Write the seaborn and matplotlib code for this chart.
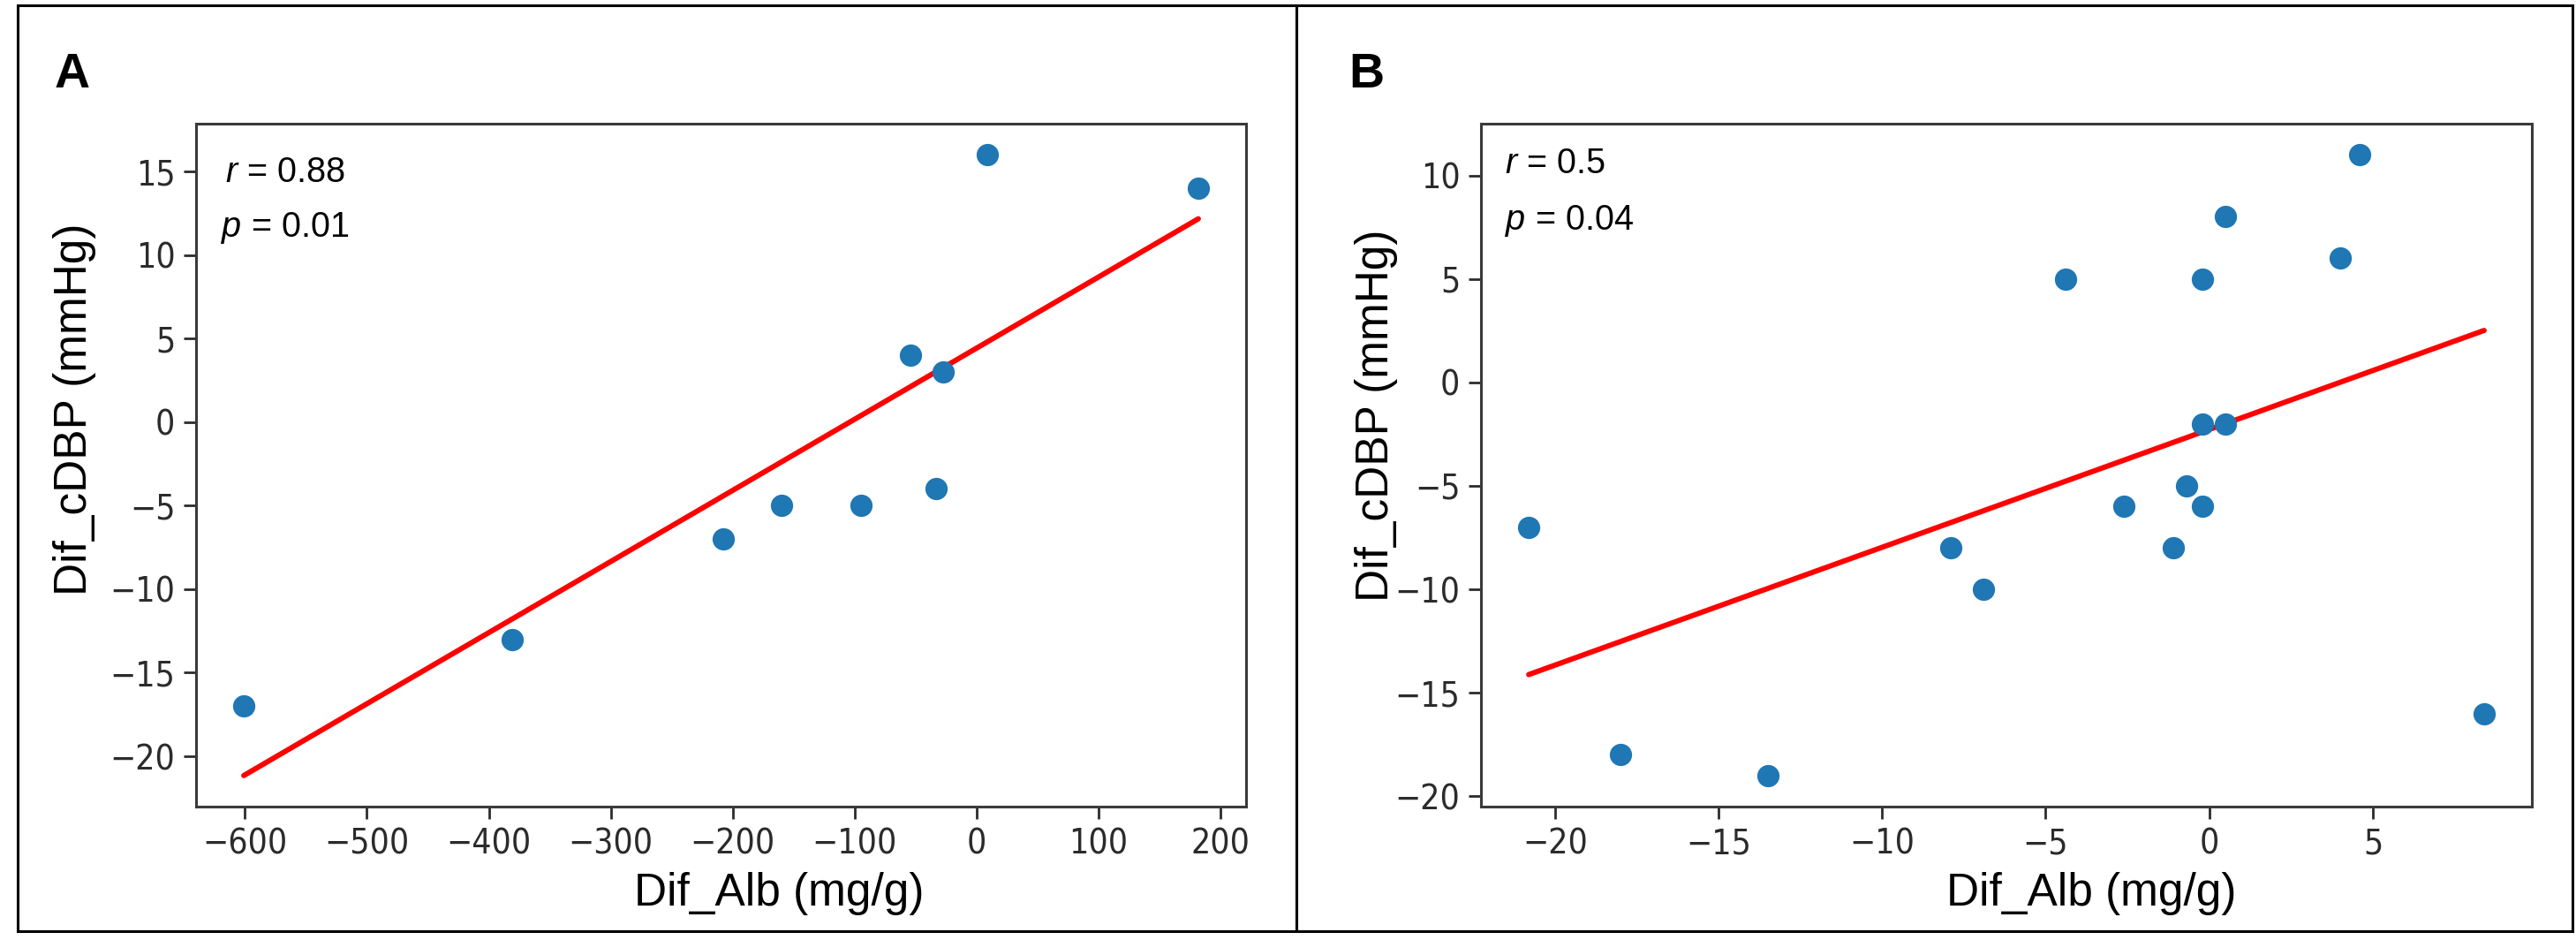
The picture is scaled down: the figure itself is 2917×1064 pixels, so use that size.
import numpy as np
import pandas as pd
import matplotlib
matplotlib.use("Agg")
import matplotlib.pyplot as plt
import matplotlib.patches as patches
import seaborn as sns

# panel A: change in albuminuria vs change in central DBP
alb_a = [-601, -381, -208, -160, -95, -33, -54, -27, 9, 182]
dbp_a = [-17, -13, -7, -5, -5, -4, 4, 3, 16, 14]
# panel B
alb_b = [-20.8, -18.0, -13.5, -7.9, -6.9, -4.4, -2.6, -1.1, -0.7, -0.2,
         -0.2, 0.5, -0.2, 0.5, 4.0, 4.6, 8.4]
dbp_b = [-7, -18, -19, -8, -10, 5, -6, -8, -5, -6, -2, -2, 5, 8, 6, 11, -16]

xticks_a = [-600, -500, -400, -300, -200, -100, 0, 100, 200]
yticks_a = [-20, -15, -10, -5, 0, 5, 10, 15]
xticks_b = [-20, -15, -10, -5, 0, 5]
yticks_b = [-20, -15, -10, -5, 0, 5, 10]

stats_a = ("0.88", "0.01")
stats_b = ("0.5", "0.04")

sns.set_style("ticks")
plt.rcParams["font.family"] = ["DejaVu Sans"]
plt.rcParams["mathtext.fontset"] = "custom"
plt.rcParams["mathtext.rm"] = "Liberation Sans"
plt.rcParams["mathtext.it"] = "Liberation Sans:italic"

W, H = 2917, 1064
fig = plt.figure(figsize=(W / 100, H / 100), dpi=100)

# outer panel frames (pixel coords -> figure fraction)
for x0, x1 in [(20, 1468), (1468, 2913)]:
    fig.patches.append(patches.Rectangle((x0 / W, 1 - 1054 / H), (x1 - x0) / W, (1054 - 6) / H,
                                         transform=fig.transFigure, fill=False,
                                         edgecolor="black", linewidth=2.2))

ax_a = fig.add_axes([222 / W, 1 - 913 / H, (1411 - 222) / W, (913 - 140) / H])
ax_b = fig.add_axes([1677 / W, 1 - 913 / H, (2867 - 1677) / W, (913 - 140) / H])

panels = [
    (ax_a, alb_a, dbp_a, xticks_a, yticks_a, stats_a, (0.028, 0.915, 0.0235, 0.834),
     (0.555, -0.096), (-0.095, 0.582), "A", 62),
    (ax_b, alb_b, dbp_b, xticks_b, yticks_b, stats_b, (0.023, 0.928, 0.023, 0.845),
     (0.581, -0.096), (-0.079, 0.573), "B", 1527),
]

for ax, xs, ys, xt, yt, st, tpos, xl, yl, letter, lx in panels:
    df = pd.DataFrame({"alb": xs, "dbp": ys})
    sns.scatterplot(data=df, x="alb", y="dbp", ax=ax, color="#1f77b4", s=330,
                    linewidth=0, zorder=3)
    sns.regplot(data=df, x="alb", y="dbp", ax=ax, scatter=False, ci=None,
                color="red", line_kws={"linewidth": 4.3, "zorder": 2})
    ax.set_xticks(xt)
    ax.set_yticks(yt)
    ax.tick_params(length=10, width=2, pad=7, labelsize=28, colors="#2b2b2b")
    for lab in ax.get_xticklabels() + ax.get_yticklabels():
        lab.set_fontstretch("condensed")
    for sp in ax.spines.values():
        sp.set_linewidth(2.2)
        sp.set_color("#3a3a3a")

    ax.set_xlabel("Dif_Alb (mg/g)", family="Liberation Sans", fontsize=37, color="black")
    ax.set_ylabel("Dif_cDBP (mmHg)", family="Liberation Sans", fontsize=37, color="black")
    ax.xaxis.set_label_coords(*xl)
    ax.yaxis.set_label_coords(*yl)

    ax.text(tpos[0], tpos[1], r"$\it{r}$ = " + st[0], transform=ax.transAxes,
            family="Liberation Sans", fontsize=28.5, va="baseline", ha="left", color="black")
    ax.text(tpos[2], tpos[3], r"$\it{p}$ = " + st[1], transform=ax.transAxes,
            family="Liberation Sans", fontsize=28.5, va="baseline", ha="left", color="black")

    fig.text(lx / W, 1 - 99 / H, letter, family="Liberation Sans", fontweight="bold",
             fontsize=40, va="baseline", ha="left", color="black")

fig.savefig("out.png", dpi=100, facecolor="white")
